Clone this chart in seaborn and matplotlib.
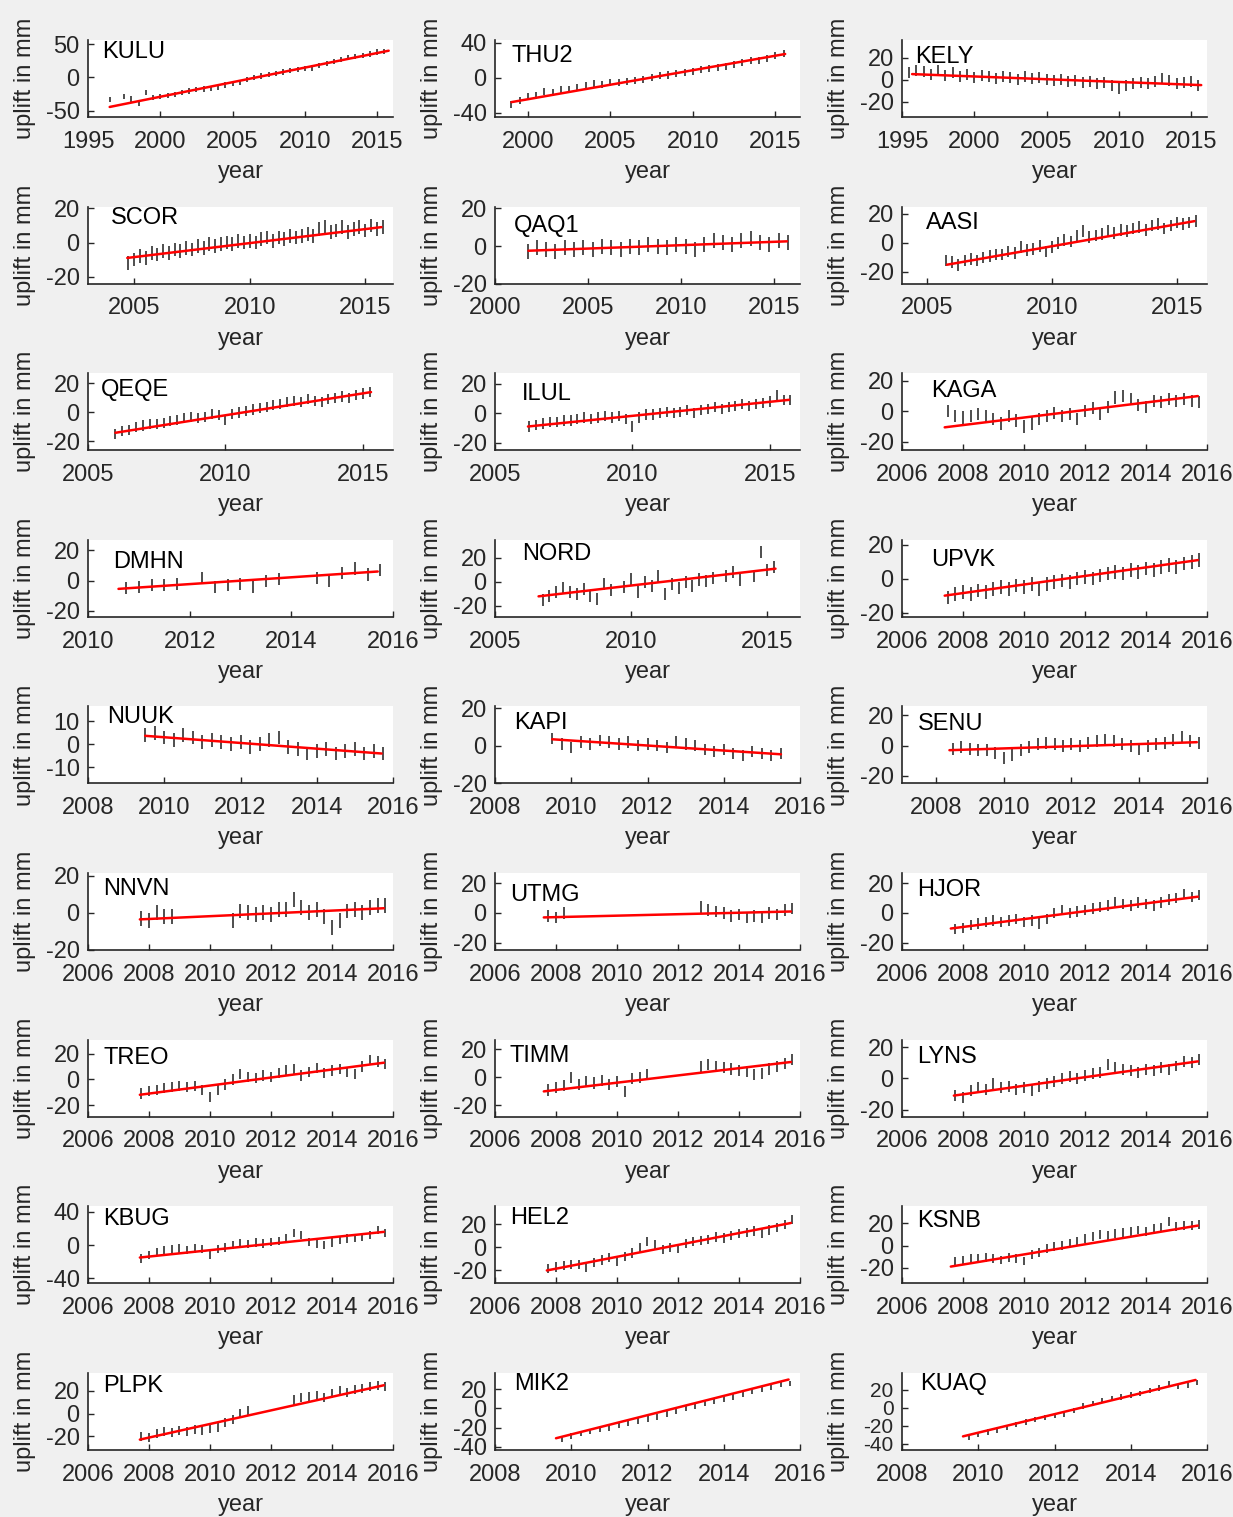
import numpy as np
import matplotlib
matplotlib.use("Agg")
import matplotlib.pyplot as plt
from matplotlib.ticker import MultipleLocator
import seaborn as sns

NA = np.nan

stations = ["KULU", "THU2", "KELY", "SCOR", "QAQ1", "AASI", "QEQE", "ILUL", "KAGA",
            "DMHN", "NORD", "UPVK", "NUUK", "KAPI", "SENU", "NNVN", "UTMG", "HJOR",
            "TREO", "TIMM", "LYNS", "KBUG", "HEL2", "KSNB", "PLPK", "MIK2", "KUAQ"]

# first epoch (decimal year) and sampling interval (years) of each series
start_year = [1996.5, 1999.0, 1995.5, 2004.75, 2001.75, 2005.75, 2006.0, 2006.25, 2007.5,
              2010.75, 2006.75, 2007.5, 2009.5, 2009.5, 2008.5, 2007.75, 2007.75, 2007.75,
              2007.75, 2007.75, 2007.75, 2007.75, 2007.75, 2007.75, 2007.75, 2009.75, 2009.75]
interval = [0.5, 0.5, 0.5, 0.25, 0.5, 0.25, 0.25, 0.25, 0.25,
            0.25, 0.25, 0.25, 0.25, 0.25, 0.25, 0.25, 0.25, 0.25,
            0.25, 0.25, 0.25, 0.25, 0.25, 0.25, 0.25, 0.25, 0.25]

# uplift in mm (gaps = NA)
KULU = [-33, NA, -28, -32, -38, -22, -30, -28, -27, -25, -22, -20, -18, -17, -16, -14, -11, -9, -7, -3,
        0, 2, 4, 6, 8, 10, 12, 13, 14, 18, 21, 24, 27, 30, 31, 33, 35, 38, 39]
THU2 = [-31, -26, -22, -20, -16, -17, -14, -13, -11, -9, -7, -8, -5, -6, -4, -3, -2, 0, 2, 3,
        5, 6, 7, 9, 10, 11, 13, 15, 17, 19, 20, 22, 25, 28]
KELY = [6, 8, 7, 5, 8, 4, 6, 3, 5, 2, 4, 3, 1, 3, 2, 0, 3, 1, 2, 0, -1, 0, -2, -1, -3, -2, -4, -3,
        -5, -8, -5, -4, -3, -4, -2, 1, -1, -4, -3, -2, -5]
SCOR = [-12, -10, -8, -9, -6, -7, -5, -6, -4, -5, -3, -4, -2, -3, -1, -2, -1, 0, -1, 1, 0, 1, 0, 2,
        3, 1, 3, 2, 4, 3, 4, 5, 4, 8, 9, 6, 7, 9, 6, 8, 9, 7, 10, 8, 9]
QAQ1 = [-3, -1, -2, -3, -1, -2, -1, -2, 0, -1, -2, 0, -1, 1, 0, -1, 1, 0, -2, 1, 3, 2, 1, 3, 4,
        2, 1, 3, 2]
AASI = [-12, -13, -15, -12, -11, -12, -10, -9, -8, -8, -6, -7, -3, -5, -4, -2, -6, -3, 0, 2, 1,
        5, 8, 4, 5, 6, 8, 7, 9, 8, 10, 11, 9, 12, 13, 10, 12, 14, 13, 14, 15]
QEQE = [-15, -13, -12, -10, -9, -8, -8, -7, -6, -5, -4, -3, -4, -3, -1, -2, -5, -1, 0, 1, 2, 3,
        4, 5, 6, 7, 8, 7, 9, 8, 7, 9, 10, 11, 10, 12, 13, 14]
ILUL = [-9, -8, -7, -6, -6, -5, -5, -4, -3, -4, -3, -2, -3, -2, -4, -9, -3, -1, -1, 0, 1, 0, 1,
        2, 0, 2, 3, 4, 3, 4, 5, 6, 5, 6, 7, 8, 12, 9, 9]
KAGA = [0, -3, -4, -3, -2, -3, -5, -8, -3, -6, -10, -8, -5, -3, -1, -3, -2, -5, 0, 2, -2, 3, 9,
        10, 8, 4, 3, 7, 6, 8, 7, 8, 7, 6]
DMHN = [-5, -4, -3, -3, -2, NA, 2, -4, -3, -2, -4, 0, 1, NA, NA, 2, 0, 5, 8, 4, 7]
NORD = [-15, -12, -8, -5, -8, -10, -6, -12, -14, -2, -7, NA, -4, 2, -8, 0, -3, 5, -10, -2, -5,
        0, -3, 2, 1, 3, NA, 5, 8, 2, NA, 5, 25, 10, 12]
UPVK = [-11, -9, -8, -9, -7, -8, -6, -5, -6, -4, -5, -3, -6, -3, -2, -1, -2, 0, 1, 0, 2, 3, 4,
        3, 5, 4, 6, 5, 7, 8, 7, 9, 10, 11]
NUUK = [4, 5, 3, 2, 4, 3, 1, 2, 1, 0, 1, -1, 0, 2, 3, -1, -2, -4, -3, -2, -4, -3, -2, -4, -3, -4]
KAPI = [4, 1, -1, 2, 1, 3, 2, 1, 2, 0, 1, 0, -1, 2, 1, 0, -2, -3, -2, -4, -5, -3, -4, -5, -4]
SENU = [-2, -1, -2, -3, -3, -5, -8, -6, -3, -1, 1, 2, 1, 0, 1, 0, 2, 3, 4, 3, 1, 0, -2, 0, 1, 2,
        4, 6, 3, 2]
NNVN = [-3, -4, 0, -2, -2, NA, NA, NA, NA, NA, NA, NA, -4, 1, 0, -1, 0, -1, 2, 2, 7, 3, 0, 2,
        -2, -8, -4, 1, 2, 0, 3, 4, 4]
UTMG = [-2, -3, 0, NA, NA, NA, NA, NA, NA, NA, NA, NA, NA, NA, NA, NA, NA, NA, NA, NA,
        4, 2, 1, 0, -2, -1, -3, -2, -3, 0, -1, 2, 3]
HJOR = [-11, -10, -8, -7, -6, -5, -6, -5, -4, -6, -5, -7, -4, 0, 2, 0, 1, 2, 3, 4, 5, 7, 6, 5, 7,
        6, 5, 7, 9, 10, 13, 11, 12]
TREO = [-11, -9, -8, -7, -6, -5, -6, -5, -8, -14, -8, -4, 0, 4, 2, 1, 3, 2, 5, 7, 8, 3, 6, 9, 5,
        7, 8, 6, 4, 10, 15, 14, 12]
TIMM = [-9, -7, -6, 0, -5, -3, -4, -2, -5, -3, -10, -1, 0, 2, NA, NA, NA, NA, NA, NA, 8, 9, 8,
        7, 6, 5, 4, 2, 3, 6, 8, 10, 13]
LYNS = [-11, -12, -8, -6, -7, -3, -6, -5, -7, -6, -8, -5, -3, -2, 0, 1, 0, 2, 3, 4, 9, 7, 6, 5,
        4, 6, 5, 7, 6, 8, 11, 10, 12]
KBUG = [-16, -12, -8, -6, -5, -4, -6, -4, -5, -12, -5, -3, 0, 2, 1, 3, 2, 4, 5, 8, 15, 12, 4, 2,
        0, 3, 6, 8, 9, 10, 12, 18, 15]
HEL2 = [-18, -17, -16, -15, -15, -17, -13, -11, -9, -12, -8, -5, 0, 5, 2, -2, 0, -1, 3, 5, 6, 7,
        9, 8, 10, 12, 13, 14, 12, 15, 17, 20, 24]
KSNB = [-14, -13, -12, -12, -11, -12, -13, -11, -12, -14, -8, -6, -3, -1, 0, 2, 4, 6, 8, 10, 9,
        11, 12, 13, 14, 13, 15, 16, 22, 17, 18, 18, 19]
PLPK = [-20, -21, -18, -16, -17, -15, -16, -14, -15, -13, -12, -8, -5, 0, 3, NA, NA, NA, NA, NA,
        12, 14, 15, 16, 14, 18, 20, 19, 21, 22, 24, 25, 24]
MIK2 = [-32, -29, -26, -24, -22, -20, -17, -15, -13, -11, -9, -6, -3, 0, 2, 5, 8, 10, 12, 15, 18,
        20, 22, 25, 26]
KUAQ = [-33, -30, -27, -25, -22, -19, -16, -13, -11, -9, -7, -3, 2, 5, 8, 10, 12, 14, 16, 19, 22,
        27, 24, 25, 28]

series = [KULU, THU2, KELY, SCOR, QAQ1, AASI, QEQE, ILUL, KAGA, DMHN, NORD, UPVK, NUUK, KAPI,
          SENU, NNVN, UTMG, HJOR, TREO, TIMM, LYNS, KBUG, HEL2, KSNB, PLPK, MIK2, KUAQ]

# error bar half length (mm)
errs = [4, 4, 5, 4, 4, 4, 3.5, 3.5, 4, 4, 5, 4, 3, 3, 4, 4, 4, 3.5, 4, 4, 3.5, 5, 4, 4, 4, 3, 3]

# linear trend: (start year, end year) and (start mm, end mm)
trend_years = [(1996.5, 2015.8), (1999.0, 2015.6), (1995.7, 2015.7), (2004.7, 2015.7),
               (2001.8, 2015.7), (2005.8, 2015.7), (2006.0, 2015.3), (2006.2, 2015.7),
               (2007.4, 2015.7), (2010.6, 2015.7), (2006.6, 2015.3), (2007.4, 2015.7),
               (2009.5, 2015.7), (2009.5, 2015.5), (2008.4, 2015.7), (2007.7, 2015.7),
               (2007.6, 2015.7), (2007.6, 2015.7), (2007.7, 2015.7), (2007.6, 2015.7),
               (2007.7, 2015.7), (2007.7, 2015.7), (2007.7, 2015.7), (2007.6, 2015.7),
               (2007.7, 2015.7), (2009.6, 2015.7), (2009.6, 2015.7)]
trend_mm = [(-44, 40), (-28, 27), (5, -5), (-9, 9), (-2.5, 2.5), (-15, 15), (-14, 14), (-9, 9),
            (-10.5, 10), (-5.5, 6), (-12, 11), (-10, 11), (3.7, -4), (3.5, -4.5), (-3, 2.3),
            (-3.5, 2.5), (-3, 1), (-10.5, 11), (-12, 13), (-10, 11), (-11, 11), (-15, 16),
            (-20, 21), (-19, 18), (-23, 25), (-31, 30), (-32, 31)]

xlims = [(1995, 2016.1), (1998, 2016.5), (1995, 2016.1), (2003, 2016.2), (2000, 2016.4),
         (2004, 2016.2), (2005, 2016.1), (2005, 2016.1), (2006, 2016), (2010, 2016),
         (2005, 2016.2), (2006, 2016), (2008, 2016), (2008, 2016), (2007, 2016),
         (2006, 2016), (2006, 2016), (2006, 2016), (2006, 2016), (2006, 2016), (2006, 2016),
         (2006, 2016), (2006, 2016), (2006, 2016), (2006, 2016), (2008, 2016), (2008, 2016)]
ylims = [(-59, 56), (-45, 43), (-34, 36), (-24, 21), (-20, 21), (-28, 25), (-26, 27), (-25, 27),
         (-25.5, 25), (-24, 27), (-29, 35), (-22.5, 23), (-17, 16.5), (-20, 21), (-25, 26),
         (-20, 21.5), (-25, 27), (-25, 27), (-29, 31), (-28, 27), (-24.5, 25), (-46, 47),
         (-31, 35.5), (-34, 35.5), (-32, 36), (-43, 37), (-47, 39)]
xstep = [5, 5, 5, 5, 5, 5, 5, 5, 2, 2, 5, 2, 2, 2, 2, 2, 2, 2, 2, 2, 2, 2, 2, 2, 2, 2, 2]
ystep = [50, 40, 20, 20, 20, 20, 20, 20, 20, 20, 20, 20, 10, 20, 20, 20, 20, 20, 20, 20, 20,
         40, 20, 20, 20, 20, 20]

# station label offsets from the axes top-left corner, in pixels
name_off = [(14, 12), (17, 16), (13, 17), (23, 11), (19, 19), (24, 16), (13, 17), (27, 21),
            (29, 18), (25, 22), (27, 14), (29, 20), (19, 11), (19, 17), (16, 18), (15, 16),
            (15, 22), (15, 17), (15, 18), (15, 16), (15, 17), (15, 13), (15, 12), (15, 15),
            (15, 13), (19, 11), (18, 11)]

sns.set_theme(style="white")
plt.rcParams["font.family"] = ["Liberation Sans", "DejaVu Sans"]
plt.rcParams["axes.unicode_minus"] = False

W, H = 1233, 1517
AW, AH = 305, 77
col_left = [88, 495, 902]
ink = "#262626"

fig = plt.figure(figsize=(W / 100, H / 100), dpi=100, facecolor="#f0f0f0")

for i, name in enumerate(stations):
    r, c = divmod(i, 3)
    top = 40 + 166.6 * r
    ax = fig.add_axes([col_left[c] / W, 1 - (top + AH) / H, AW / W, AH / H])
    ax.set_facecolor("white")

    vals = np.array(series[i], dtype=float)
    years = start_year[i] + interval[i] * np.arange(len(vals))
    ax.errorbar(years, vals, yerr=errs[i], fmt="none", ecolor="#404040", elinewidth=1.3)
    sns.lineplot(x=list(trend_years[i]), y=list(trend_mm[i]), color="#ff0000", lw=1.8, ax=ax)

    ax.set_xlim(*xlims[i])
    ax.set_ylim(*ylims[i])
    ax.xaxis.set_major_locator(MultipleLocator(xstep[i]))
    ax.yaxis.set_major_locator(MultipleLocator(ystep[i]))

    for side in ["top", "right"]:
        ax.spines[side].set_visible(False)
    for side in ["left", "bottom"]:
        ax.spines[side].set_color(ink)
        ax.spines[side].set_linewidth(1.2)
    ax.tick_params(bottom=True, left=True, direction="in", length=4, width=1,
                   colors=ink, labelsize=17)
    ax.tick_params(axis="x", pad=10)
    ax.tick_params(axis="y", pad=6)
    if ystep[i] == 20 and ylims[i][1] - ylims[i][0] > 80:
        # tightly spaced ticks: slightly smaller labels so they do not collide
        ax.tick_params(axis="y", labelsize=15)

    ax.set_xlabel("year", fontsize=17, color=ink, va="center")
    ax.xaxis.set_label_coords(0.5, -55 / AH)
    ax.set_ylabel("uplift in mm", fontsize=17, color=ink, va="center")
    ax.yaxis.set_label_coords(-63 / AW, 0.5)

    dx, dy = name_off[i]
    ax.text(dx / AW, 1 - dy / AH, name, transform=ax.transAxes, ha="left", va="center",
            fontsize=17, color="black")

fig.savefig("out.png", dpi=100, facecolor=fig.get_facecolor())
